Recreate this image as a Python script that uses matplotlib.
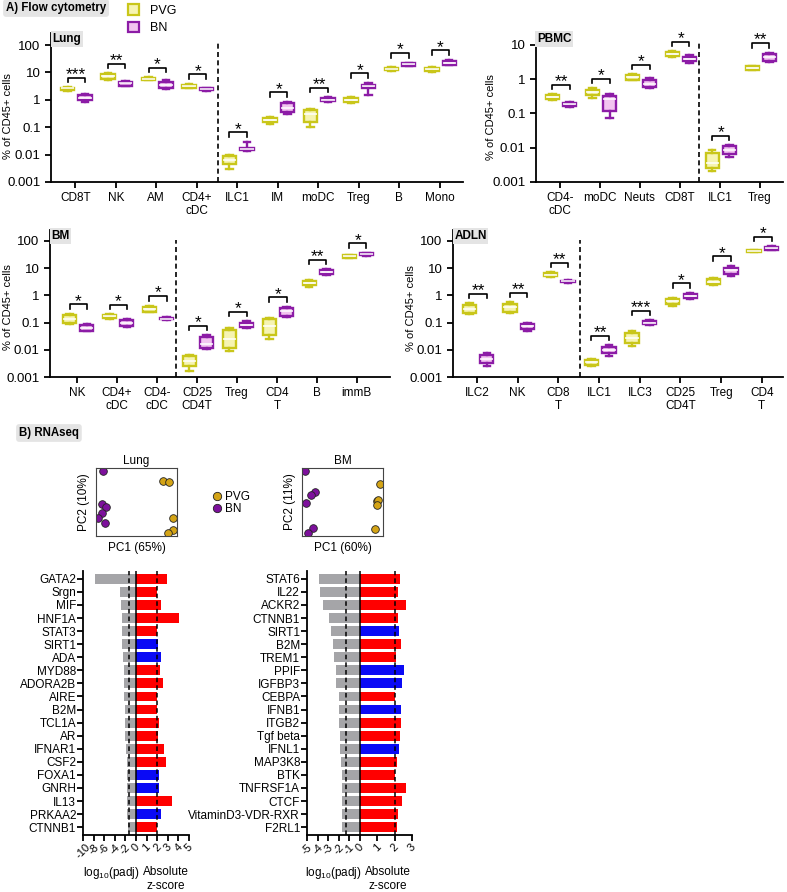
import numpy as np
import matplotlib
matplotlib.use('Agg')
from matplotlib import pyplot as plt
from matplotlib.patches import Patch
from matplotlib.lines import Line2D
from matplotlib.ticker import NullLocator

plt.rcParams['font.family'] = ['Liberation Sans', 'DejaVu Sans']
plt.rcParams['mathtext.fontset'] = 'custom'
plt.rcParams['mathtext.rm'] = 'Liberation Sans'
plt.rcParams['axes.linewidth'] = 1.3
plt.rcParams['xtick.major.width'] = 1.3
plt.rcParams['ytick.major.width'] = 1.3

# ---------------- flow cytometry data: [min, q1, median, q3, max] ----------------
lung_cells = ['CD8T', 'NK', 'AM', 'CD4+\ncDC', 'ILC1', 'IM', 'moDC', 'Treg', 'B', 'Mono']
lung_pvg = [[2.1, 2.3, 2.6, 2.8, 2.9], [5.3, 5.9, 7.2, 8.7, 9.2], [5.1, 5.4, 5.9, 6.4, 6.8],
            [2.7, 2.8, 3.2, 3.6, 3.9], [0.0031, 0.0045, 0.0063, 0.0088, 0.0097],
            [0.13, 0.15, 0.18, 0.21, 0.23], [0.1, 0.15, 0.3, 0.44, 0.48],
            [0.74, 0.8, 1.0, 1.2, 1.3], [11, 12, 13.5, 15, 16], [10.5, 11, 13, 15, 15.5]]
lung_bn = [[0.8, 1.0, 1.2, 1.45, 1.6], [3.1, 3.3, 4.0, 4.5, 4.8], [2.4, 2.7, 3.5, 4.6, 5.2],
           [2.1, 2.2, 2.45, 2.7, 2.8], [0.014, 0.015, 0.016, 0.018, 0.029],
           [0.3, 0.37, 0.52, 0.77, 0.85], [0.85, 0.9, 1.02, 1.2, 1.25],
           [1.5, 2.8, 3.2, 3.5, 4.2], [16.5, 17.5, 19.5, 22, 23], [18, 19, 23, 27, 28.5]]
lung_sig = ['***', '**', '*', '*', '*', '*', '**', '*', '*', '*']

pbmc_cells = ['CD4-\ncDC', 'moDC', 'Neuts', 'CD8T', 'ILC1', 'Treg']
pbmc_pvg = [[0.24, 0.26, 0.3, 0.34, 0.37], [0.29, 0.34, 0.42, 0.5, 0.54],
            [0.93, 0.98, 1.13, 1.3, 1.38], [4.6, 4.9, 5.5, 6.2, 6.5],
            [0.0021, 0.0026, 0.0036, 0.0072, 0.0085], [1.8, 1.9, 2.1, 2.4, 2.5]]
pbmc_bn = [[0.16, 0.165, 0.185, 0.2, 0.21], [0.072, 0.12, 0.26, 0.33, 0.37],
           [0.54, 0.6, 0.75, 0.92, 1.06], [2.9, 3.3, 3.9, 4.6, 5.0],
           [0.0052, 0.0065, 0.0088, 0.0113, 0.012], [3.1, 3.5, 4.4, 5.6, 6.0]]
pbmc_sig = ['**', '*', '*', '*', '*', '**']

bm_cells = ['NK', 'CD4+\ncDC', 'CD4-\ncDC', 'CD25\nCD4T', 'Treg', 'CD4\nT', 'B', 'immB']
bm_pvg = [[0.087, 0.1, 0.14, 0.185, 0.21], [0.14, 0.145, 0.17, 0.19, 0.2],
          [0.24, 0.25, 0.31, 0.38, 0.42], [0.0016, 0.0026, 0.0038, 0.0057, 0.0062],
          [0.0093, 0.012, 0.025, 0.055, 0.063], [0.025, 0.035, 0.075, 0.14, 0.15],
          [2.05, 2.4, 2.9, 3.4, 3.8], [23, 24.5, 27, 30, 31]]
bm_bn = [[0.048, 0.05, 0.063, 0.078, 0.085], [0.07, 0.075, 0.097, 0.125, 0.135],
         [0.125, 0.13, 0.14, 0.15, 0.16], [0.011, 0.012, 0.017, 0.03, 0.034],
         [0.065, 0.07, 0.082, 0.1, 0.11], [0.16, 0.18, 0.26, 0.33, 0.38],
         [5.6, 6.0, 7.0, 8.5, 9.0], [29, 30, 32, 34.5, 36]]
bm_sig = ['*', '*', '*', '*', '*', '*', '**', '*']

adln_cells = ['ILC2', 'NK', 'CD8\nT', 'ILC1', 'ILC3', 'CD25\nCD4T', 'Treg', 'CD4\nT']
adln_pvg = [[0.2, 0.22, 0.32, 0.45, 0.52], [0.23, 0.25, 0.36, 0.48, 0.56],
            [4.8, 5.1, 5.8, 6.5, 7.0], [0.0026, 0.0028, 0.0035, 0.0043, 0.0046],
            [0.014, 0.018, 0.026, 0.04, 0.048], [0.4, 0.48, 0.6, 0.72, 0.78],
            [2.4, 2.6, 3.2, 3.9, 4.2], [38, 40, 43, 46, 48]]
adln_bn = [[0.0026, 0.0034, 0.0047, 0.0067, 0.0075], [0.05, 0.056, 0.072, 0.088, 0.095],
           [2.9, 3.0, 3.3, 3.5, 3.6], [0.0058, 0.0073, 0.0098, 0.013, 0.0145],
           [0.08, 0.085, 0.1, 0.115, 0.12], [0.72, 0.78, 0.95, 1.15, 1.25],
           [5.2, 6.0, 8.3, 10.5, 12], [46, 48, 54, 60, 64]]
adln_sig = ['**', '**', '**', '**', '***', '*', '*', '*']

# ---------------- PCA (positions inside the plot box, 0-100) ----------------
lung_pc1_pvg = [83, 90, 95, 95, 89]
lung_pc2_pvg = [81, 79, 26, 9, 4]
lung_pc1_bn = [9, 7.4, 12, 7.4, 2.5, 11]
lung_pc2_bn = [96, 47, 43, 34, 26, 19]
bm_pc1_pvg = [96, 92, 94, 92, 90]
bm_pc2_pvg = [76, 51, 53, 46, 10]
bm_pc1_bn = [3.7, 16, 11, 5, 14, 7.4]
bm_pc2_bn = [96, 65, 60, 49, 12, 4]

# ---------------- upstream regulators ----------------
lung_genes = ['GATA2', 'Srgn', 'MIF', 'HNF1A', 'STAT3', 'SIRT1', 'ADA', 'MYD88', 'ADORA2B',
              'AIRE', 'B2M', 'TCL1A', 'AR', 'IFNAR1', 'CSF2', 'FOXA1', 'GNRH', 'IL13',
              'PRKAA2', 'CTNNB1']
lung_logp = [-7.8, -3.1, -2.8, -2.7, -2.7, -2.7, -2.5, -2.2, -2.2, -2.2, -2.0, -2.0, -2.0,
             -1.9, -1.75, -1.75, -1.75, -1.7, -1.7, -1.55]
lung_z = [2.9, 2.0, 2.35, 4.1, 2.0, 2.03, 2.4, 2.25, 2.5, 2.0, 2.0, 2.2, 2.1, 2.6, 2.85,
          2.2, 2.2, 3.4, 2.35, 2.0]
lung_dir = [1, 1, 1, 1, 1, -1, -1, 1, 1, 1, 1, 1, 1, 1, 1, -1, -1, 1, -1, 1]

bm_genes = ['STAT6', 'IL22', 'ACKR2', 'CTNNB1', 'SIRT1', 'B2M', 'TREM1', 'PPIF', 'IGFBP3',
            'CEBPA', 'IFNB1', 'ITGB2', 'Tgf beta', 'IFNL1', 'MAP3K8', 'BTK', 'TNFRSF1A',
            'CTCF', 'VitaminD3-VDR-RXR', 'F2RL1']
bm_logp = [-3.83, -3.73, -3.48, -2.94, -2.75, -2.53, -2.47, -2.28, -2.2, -2.0, -2.0, -1.93,
           -1.9, -1.84, -1.77, -1.7, -1.7, -1.68, -1.65, -1.65]
bm_z = [2.29, 2.2, 2.66, 2.18, 2.26, 2.37, 2.08, 2.54, 2.45, 2.0, 2.39, 2.39, 2.31, 2.24,
        2.14, 2.05, 2.66, 2.41, 2.22, 2.14]
bm_dir = [1, 1, 1, 1, -1, 1, 1, -1, -1, 1, -1, 1, 1, -1, 1, 1, 1, 1, 1, 1]

PVG_EDGE, PVG_FACE = '#c9c61a', '#f6f4b2'
BN_EDGE, BN_FACE = '#8c1ca6', '#f2c4f0'
PVG_DOT, BN_DOT = '#d4a416', '#7d109c'

W, H = 787, 892
fig = plt.figure(figsize=(W / 100, H / 100), dpi=100)


def px_rect(l, t, r, b):
    return [l / W, 1 - b / H, (r - l) / W, (b - t) / H]


def box_stats(v):
    return dict(whislo=v[0], q1=v[1], med=v[2], q3=v[3], whishi=v[4])


def flow_panel(rect, cells, pvg, bn, sig, split, xlim, ytop, title, ticks, label_xy):
    ax = fig.add_axes(px_rect(*rect))
    x = np.arange(len(cells))
    for vals, off, ec, fc in [(pvg, -0.19, PVG_EDGE, PVG_FACE), (bn, 0.24, BN_EDGE, BN_FACE)]:
        ax.bxp([box_stats(v) for v in vals], positions=x + off, widths=0.33, capwidths=0.16,
               patch_artist=True, showfliers=False, manage_ticks=False,
               boxprops=dict(facecolor=fc, edgecolor=ec, linewidth=1.7),
               whiskerprops=dict(color=ec, linewidth=1.7),
               capprops=dict(color=ec, linewidth=1.7),
               medianprops=dict(color='white', linewidth=1.1))
    ax.set_yscale('log')
    ax.set_ylim(0.001, ytop)
    ax.set_xlim(*xlim)
    ax.set_yticks(ticks)
    ax.set_yticklabels(['%g' % t for t in ticks], fontsize=9.5)
    ax.yaxis.set_minor_locator(NullLocator())
    ax.set_xticks(x)
    ax.set_xticklabels(cells, fontsize=8.5, linespacing=1.05)
    ax.tick_params(length=4)
    ax.spines['top'].set_visible(False)
    ax.spines['right'].set_visible(False)
    ax.set_ylabel('% of CD45+ cells', fontsize=8)
    ax.yaxis.set_label_coords(*label_xy)
    ax.axvline(split, ymin=0, ymax=0.93, color='black', ls=(0, (3, 2)), lw=1.2)
    ax.text(0.004, 1.0, title, transform=ax.transAxes, fontsize=8.5, fontweight='bold',
            va='top', ha='left', bbox=dict(fc='#e4e4e4', ec='none', pad=1.2))
    # significance brackets, placed a few pixels above the taller box
    inv = ax.transData.inverted()
    for i in range(len(cells)):
        top = max(pvg[i][4], bn[i][4])
        py = ax.transData.transform((0, top))[1]
        y_line = inv.transform((0, py + 9.5))[1]
        y_tick = inv.transform((0, py + 5.0))[1]
        y_txt = inv.transform((0, py + 8.0))[1]
        x1, x2 = i - 0.19, i + 0.24
        ax.plot([x1, x1, x2, x2], [y_tick, y_line, y_line, y_tick], color='black', lw=1.2)
        ax.text((x1 + x2) / 2, y_txt, sig[i], ha='center', va='baseline', fontsize=12.5)
    return ax


flow_panel((51, 33, 463, 182), lung_cells, lung_pvg, lung_bn, lung_sig, 3.53,
           (-0.6, 9.58), 10 ** 2.44, 'Lung', [0.001, 0.01, 0.1, 1, 10, 100], (-0.092, 0.443))
flow_panel((536, 33, 783, 182), pbmc_cells, pbmc_pvg, pbmc_bn, pbmc_sig, 3.47,
           (-0.6, 5.58), 10 ** 1.35, 'PBMC', [0.001, 0.01, 0.1, 1, 10], (-0.162, 0.436))
flow_panel((50, 230, 390, 377), bm_cells, bm_pvg, bm_bn, bm_sig, 2.47,
           (-0.68, 7.83), 10 ** 2.4, 'BM', [0.001, 0.01, 0.1, 1, 10, 100], (-0.109, 0.476))
flow_panel((453, 230, 783, 377), adln_cells, adln_pvg, adln_bn, adln_sig, 2.53,
           (-0.59, 7.52), 10 ** 2.4, 'ADLN', [0.001, 0.01, 0.1, 1, 10, 100], (-0.112, 0.47))

# section headers and legends
hdr = dict(fontsize=8.3, fontweight='bold', va='center', ha='left',
           bbox=dict(boxstyle='round,pad=0.25', fc='#e4e4e4', ec='none'))
fig.text(6 / W, 1 - 8 / H, 'A) Flow cytometry', **hdr)
fig.text(19 / W, 1 - 433 / H, 'B) RNAseq', **hdr)

fig.legend(handles=[Patch(fc=PVG_FACE, ec=PVG_EDGE, lw=1.6), Patch(fc=BN_FACE, ec=BN_EDGE, lw=1.6)],
           labels=['PVG', 'BN'], loc='upper left', bbox_to_anchor=(119 / W, 1 + 4.5 / H),
           frameon=False, fontsize=9, handlelength=0.9, handleheight=0.9, labelspacing=0.4,
           handletextpad=0.9, borderpad=0.2)


def pca_panel(rect, title, xlab, ylab, x_pvg, y_pvg, x_bn, y_bn):
    ax = fig.add_axes(px_rect(*rect))
    ax.plot(x_bn, y_bn, 'o', ms=5.5, mfc=BN_DOT, mec='#222222', mew=0.6)
    ax.plot(x_pvg, y_pvg, 'o', ms=5.5, mfc=PVG_DOT, mec='#222222', mew=0.6)
    ax.set_xlim(0, 100)
    ax.set_ylim(0, 100)
    ax.set_xticks([])
    ax.set_yticks([])
    for s in ax.spines.values():
        s.set_linewidth(0.8)
        s.set_color('#444444')
    ax.set_title(title, fontsize=8.5, pad=3)
    ax.set_xlabel(xlab, fontsize=8.5, labelpad=4)
    ax.set_ylabel(ylab, fontsize=8.5, labelpad=4)


pca_panel((96, 468, 177, 536), 'Lung', 'PC1 (65%)', 'PC2 (10%)',
          lung_pc1_pvg, lung_pc2_pvg, lung_pc1_bn, lung_pc2_bn)
pca_panel((302, 468, 383, 536), 'BM', 'PC1 (60%)', 'PC2 (11%)',
          bm_pc1_pvg, bm_pc2_pvg, bm_pc1_bn, bm_pc2_bn)

fig.legend(handles=[Line2D([], [], ls='', marker='o', ms=6, mfc=PVG_DOT, mec='#222222', mew=0.6),
                    Line2D([], [], ls='', marker='o', ms=6, mfc=BN_DOT, mec='#222222', mew=0.6)],
           labels=['PVG', 'BN'], loc='center left', bbox_to_anchor=(208 / W, 1 - 503 / H),
           frameon=False, fontsize=8.5, handlelength=0.6, handletextpad=0.3, labelspacing=0.05,
           borderpad=0)


def regulator_panel(rect, genes, logp, z, direction, scale, left_ticks, right_ticks, lab_x):
    ax = fig.add_axes(px_rect(*rect))
    y = np.arange(len(genes))
    ax.barh(y, np.array(logp) * scale, height=0.75, color='#a5a5a8')
    ax.barh(y, z, height=0.75, color=['#ff0000' if d > 0 else '#0a0af5' for d in direction])
    ax.axvline(0, color='black', lw=1.1)
    ax.axvline(-1.3 * scale, color='black', ls=(0, (3, 2)), lw=1.1)
    ax.axvline(2, color='black', ls=(0, (3, 2)), lw=1.1)
    ax.set_ylim(len(genes) - 0.4, -0.6)
    ax.set_xlim(left_ticks[0] * scale, right_ticks[-1])
    ax.set_yticks(y)
    ax.set_yticklabels(genes, fontsize=8.5)
    ticks = [t * scale for t in left_ticks] + list(right_ticks)
    ax.set_xticks(ticks)
    ax.set_xticklabels([str(t) for t in left_ticks] + [str(t) for t in right_ticks],
                       fontsize=8, rotation=45, ha='center', va='top')
    ax.tick_params(length=4, pad=1)
    ax.spines['top'].set_visible(False)
    ax.spines['right'].set_visible(False)
    fig.text(lab_x[0] / W, 1 - 873 / H, r'log$_{10}$(padj)', fontsize=8.5, ha='center', va='center')
    fig.text(lab_x[1] / W, 1 - 879 / H, 'Absolute\nz-score', fontsize=8.5, ha='center',
             va='center', linespacing=1.3)


regulator_panel((83, 571, 189, 835), lung_genes, lung_logp, lung_z, lung_dir, 0.5,
                [-10, -8, -6, -4, -2], [0, 1, 2, 3, 4, 5], (111, 166))
regulator_panel((307, 571, 412, 835), bm_genes, bm_logp, bm_z, bm_dir, 0.6,
                [-5, -4, -3, -2, -1], [0, 1, 2, 3], (333, 388))

fig.savefig('out.png', dpi=100)
